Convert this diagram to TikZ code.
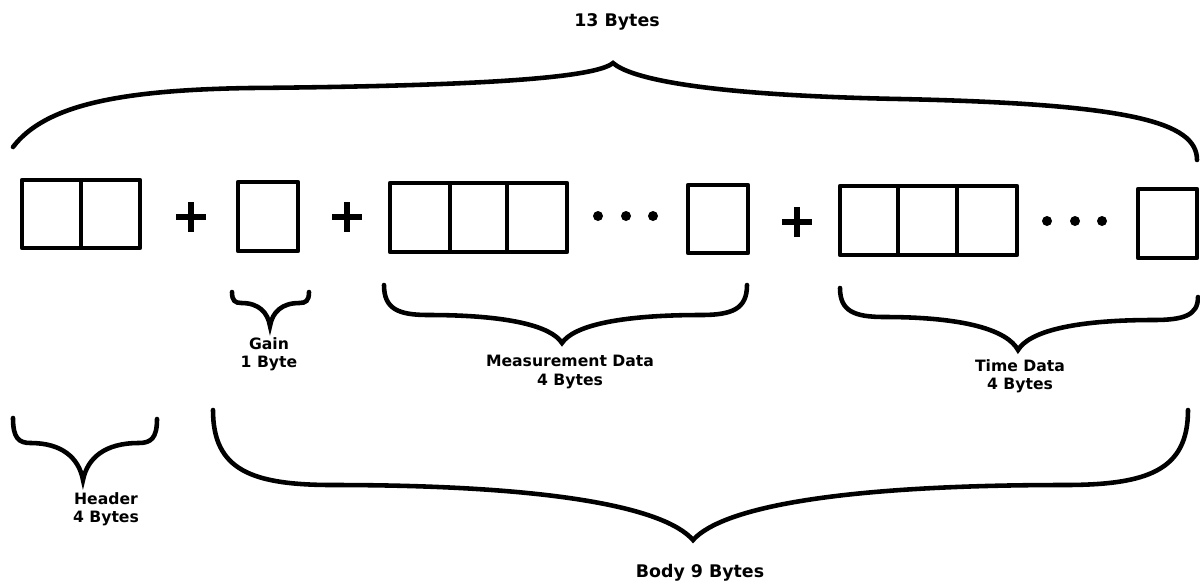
\documentclass[tikz,border=0pt]{standalone}
\usepackage{fontspec}
\setmainfont{DejaVu Sans}
\tikzset{
  px/.style={x=0.02cm,y=-0.02cm},
  cell/.style={line width=2.6pt,line join=round},
  bracestyle/.style={line width=2.6pt,line cap=round},
  plusstyle/.style={line width=3pt},
  lbl/.style={font=\bfseries\fontsize{8.9}{10.3}\selectfont,align=center,inner sep=0pt},
  biglbl/.style={font=\bfseries\fontsize{9.9}{11.5}\selectfont,align=center,inner sep=0pt},
}
% #1 x1, #2 y1, #3 x2, #4 y2, #5 arm y left, #6 arm y right, #7 tip x, #8 tip y
\newcommand\mybrace[8]{%
 \draw[bracestyle] (#1,#2) .. controls (#1,{#2+0.8*(#5-#2)}) and ({#1+0.08*(#7-#1)},#5) .. ({#1+0.25*(#7-#1)},#5)
  .. controls ({#1+0.7*(#7-#1)},#5) and ({#7-0.06*(#7-#1)},{#5+0.4*(#8-#5)}) .. (#7,#8)
  .. controls ({#7-0.06*(#7-#3)},{#6+0.4*(#8-#6)}) and ({#3+0.7*(#7-#3)},#6) .. ({#3+0.25*(#7-#3)},#6)
  .. controls ({#3+0.08*(#7-#3)},#6) and (#3,{#4+0.8*(#6-#4)}) .. (#3,#4);}
\newcommand\myplus[2]{\draw[plusstyle] (#1-15,#2) -- (#1+15,#2) (#1,#2-15) -- (#1,#2+15);}
\begin{document}
\begin{tikzpicture}[px]
\useasboundingbox (0,0) rectangle (1200,583);
% header
\draw[cell] (22,180) rectangle (140,248);
\draw[cell] (81,180) -- (81,248);
\myplus{191}{217}
% gain
\draw[cell] (238,182) rectangle (298,251);
\myplus{347}{217}
% measurement
\draw[cell] (390,183) rectangle (567,252);
\draw[cell] (450,183) -- (450,252) (507,183) -- (507,252);
\foreach \x in {598,626,653} \fill (\x,216) circle[radius=5];
\draw[cell] (688,185) rectangle (748,253);
\myplus{797}{222}
% time
\draw[cell] (840,186) rectangle (1017,255);
\draw[cell] (898,186) -- (898,255) (957,186) -- (957,255);
\foreach \x in {1047,1075,1102} \fill (\x,221) circle[radius=5];
\draw[cell] (1138,189) rectangle (1197,258);
% braces
\draw[bracestyle] (13,147) .. controls (45,105) and (120,90) .. (250,88)
  .. controls (480,86) and (595,78) .. (613,63)
  .. controls (630,78) and (700,95) .. (900,99)
  .. controls (1130,104) and (1197,122) .. (1197,160);
\mybrace{13}{418}{157}{419}{443}{443}{83}{480}
\mybrace{232}{292}{309}{292}{303}{303}{270}{326}
\mybrace{384}{285}{747}{285}{315}{315}{562}{343}
\mybrace{840}{288}{1198}{297}{317}{320}{1018}{350}
\mybrace{213}{410}{1188}{410}{485}{485}{693}{540}
% labels
\node[biglbl] (total) at (617,22) {13 Bytes};
\node[lbl] (hdr) at (106,509) {Header\\4 Bytes};
\node[lbl] (gain) at (269,354) {Gain\\1 Byte};
\node[lbl] (meas) at (570,372) {Measurement Data\\4 Bytes};
\node[lbl] (time) at (1020,376) {Time Data\\4 Bytes};
\node[biglbl] (body) at (700,573) {Body 9 Bytes};
\end{tikzpicture}
\end{document}
